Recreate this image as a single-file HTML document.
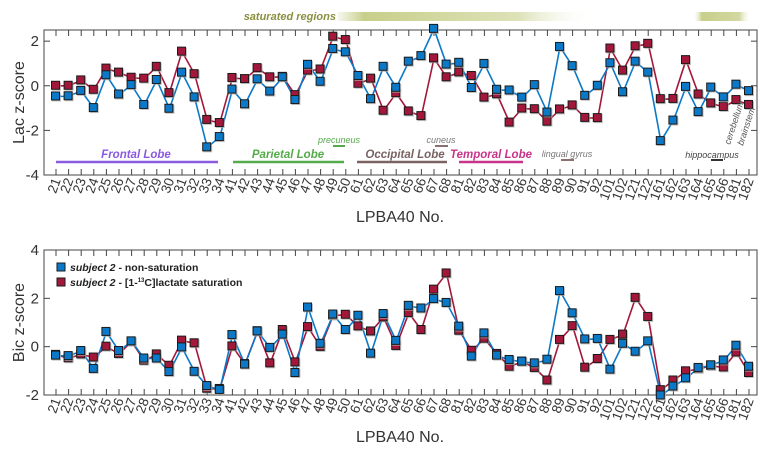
<!DOCTYPE html>
<html><head><meta charset="utf-8"><style>
body{margin:0;background:#fff}
svg{font-family:"Liberation Sans",sans-serif;display:block}
</style></head><body>
<svg id="c" width="770" height="450">
<defs>
<linearGradient id="g1" x1="0" x2="1"><stop offset="0" stop-color="#d2d8a0" stop-opacity="0.2"/><stop offset="0.1" stop-color="#c8cf8a"/><stop offset="0.7" stop-color="#dde2b8"/><stop offset="1" stop-color="#fff" stop-opacity="0"/></linearGradient>
<linearGradient id="g2" x1="0" x2="1"><stop offset="0" stop-color="#fff" stop-opacity="0"/><stop offset="0.15" stop-color="#c8cf8a"/><stop offset="0.8" stop-color="#d2d8a0"/><stop offset="1" stop-color="#fff" stop-opacity="0"/></linearGradient>
</defs>
</svg>
<script>
const categories=["21","22","23","24","25","26","27","28","29","30","31","32","33","34","41","42","43","44","45","46","47","48","49","50","61","62","63","64","65","66","67","68","81","82","83","84","85","86","87","88","89","90","91","92","101","102","121","122","161","162","163","164","165","166","181","182"];
const lacBlue=[-0.48,-0.47,-0.23,-1.0,0.47,-0.39,0.03,-0.86,0.26,-1.03,0.59,-0.52,-2.76,-2.3,-0.17,-0.83,0.29,-0.26,0.38,-0.64,0.94,0.18,1.65,1.5,0.44,-0.6,0.85,-0.09,1.08,1.33,2.55,0.95,1.03,-0.1,0.98,-0.18,-0.21,-0.53,0.03,-1.2,1.74,0.88,-0.45,0.0,1.01,-0.29,1.08,0.59,-2.48,-1.56,-0.05,-1.18,-0.08,-0.52,0.05,-0.24];
const lacRed=[0,0,0.24,-0.18,0.77,0.59,0.36,0.32,0.85,-0.33,1.53,0.52,-1.53,-1.67,0.35,0.3,0.79,0.38,0.4,-0.42,0.68,0.73,2.2,2.05,0.09,0.32,-1.12,-0.33,-1.15,-1.36,1.23,0.38,0.6,0.44,-0.53,-0.38,-1.65,-1.02,-1.05,-1.61,-1.06,-0.88,-1.44,-1.45,1.67,0.68,1.77,1.88,-0.6,-0.59,1.15,-0.39,-0.79,-0.95,-0.64,-0.86];
const bicBlue=[-0.37,-0.39,-0.18,-0.92,0.61,-0.18,0.22,-0.49,-0.49,-1.05,-0.03,-1.04,-1.63,-1.79,0.48,-0.74,0.63,-0.05,0.5,-1.09,1.62,0.12,1.33,0.69,1.28,-0.29,1.35,0.24,1.69,1.58,1.97,1.81,0.83,-0.41,0.55,-0.37,-0.55,-0.62,-0.69,-0.54,2.3,1.38,0.3,0.32,-0.95,0.12,-0.21,0.22,-2.02,-1.65,-1.31,-0.88,-0.77,-0.57,0.04,-0.83];
const bicRed=[-0.34,-0.48,-0.32,-0.45,0.0,-0.3,0.21,-0.58,-0.32,-0.79,0.25,0.14,-1.74,-1.75,0.01,-0.72,0.64,-0.69,0.69,-0.65,0.81,-0.01,1.29,1.32,0.84,0.63,1.21,0.03,1.39,0.69,2.36,3.03,0.66,-0.17,0.33,-0.3,-0.83,-0.62,-0.88,-1.4,0.28,0.85,-0.87,-0.51,0.28,0.5,2.02,1.23,-1.8,-1.4,-1.02,-0.92,-0.8,-0.86,-0.24,-1.09];
const lacTicks=[2,0,-2,-4];
const bicTicks=[4,2,0,-2];

const svg=document.getElementById('c');
const NS='http://www.w3.org/2000/svg';
function mk(t,a,p){const e=document.createElementNS(NS,t);for(const k in a)e.setAttribute(k,a[k]);(p||svg).appendChild(e);return e;}
const L=44,R=757,X0=56,X1=749;
const xs=i=>X0+i*(X1-X0)/(categories.length-1);
const BLUE='#0b79c8',RED='#a3183a';

function panel(name,top,bottom,ymin,ymax,ticks,b,r,ylab){
  const ys=v=>bottom-(v-ymin)/(ymax-ymin)*(bottom-top);
  const g=mk('g',{});
  
  
  const fr=mk('rect',{x:L,y:top,width:R-L,height:bottom-top,fill:'none',stroke:'#444','stroke-width':1},g);
  
  
  categories.forEach((c,i)=>{
    const x=xs(i);
    mk('line',{x1:x,x2:x,y1:top,y2:top+6,stroke:'#444'},g);
    mk('line',{x1:x,x2:x,y1:bottom,y2:bottom-6,stroke:'#444'},g);
    const t=mk('text',{x:x+5,y:bottom+5,'font-size':13.5,fill:'#333','text-anchor':'end',transform:`rotate(-70 ${x+5} ${bottom+5})`},g);
    t.textContent=c;
    
    
  });
  ticks.forEach(v=>{
    const y=ys(v);
    mk('line',{x1:L,x2:L+6,y1:y,y2:y,stroke:'#444'},g);
    mk('line',{x1:R,x2:R-6,y1:y,y2:y,stroke:'#444'},g);
    const t=mk('text',{x:L-5,y:y+5,'font-size':15,fill:'#333','text-anchor':'end'},g);
    t.textContent=v;
    
    
  });
  const yl=mk('text',{x:24,y:(top+bottom)/2,'font-size':16,fill:'#333','text-anchor':'middle',transform:`rotate(-90 24 ${(top+bottom)/2})`},g);
  yl.textContent=ylab;
  
  
  const xl=mk('text',{x:400,y:bottom+47,'font-size':16,fill:'#333','text-anchor':'middle'},g);
  xl.textContent='LPBA40 No.';
  
  
  [[r,RED,'sat'],[b,BLUE,'nonsat']].forEach(([d,col,nm])=>{
    const pl=mk('polyline',{points:d.map((v,i)=>xs(i)+','+ys(v)).join(' '),fill:'none',stroke:col,'stroke-width':1.6},g);
    
    
  });
  [[r,RED,'sat'],[b,BLUE,'nonsat']].forEach(([d,col,nm])=>{
    d.forEach((v,i)=>{
      mk('rect',{x:xs(i)-4,y:ys(v)-4,width:9,height:9,fill:'#aaa',opacity:0.7},g);
      const m=mk('rect',{x:xs(i)-4.5,y:ys(v)-4.5,width:8,height:8,fill:col,stroke:'#1a1a1a','stroke-width':1},g);
      
      
    });
  });
}
panel('lac-panel',30,175,-4,2.5,lacTicks,lacBlue,lacRed,'Lac z-score');
panel('bic-panel',250,395,-2,4,bicTicks,bicBlue,bicRed,'Bic z-score');

function txt(s,a,name){const t=mk('text',a);t.textContent=s;return t;}
function ln(x1,x2,y,col,name,w){const l=mk('line',{x1,x2,y1:y,y2:y,stroke:col,'stroke-width':w||2.5});}
// saturated regions
const s1=mk('rect',{x:338,y:12,width:258,height:9,fill:'url(#g1)'});
const s2=mk('rect',{x:693,y:12,width:58,height:9,fill:'url(#g2)'});
txt('saturated regions',{x:336,y:20,'font-size':11,'font-weight':'bold','font-style':'italic',fill:'#8a9040','text-anchor':'end'},'saturated-regions-label');
// lobes
ln(56,218,162,'#8a5ae0','frontal-line');txt('Frontal Lobe',{x:136,y:158,'font-size':11.5,'font-weight':'bold','font-style':'italic',fill:'#8a5ae0','text-anchor':'middle'},'frontal-label');
ln(233,344,162,'#55aa4a','parietal-line');txt('Parietal Lobe',{x:288,y:158,'font-size':11.5,'font-weight':'bold','font-style':'italic',fill:'#55aa4a','text-anchor':'middle'},'parietal-label');
ln(333,345,146,'#55aa4a','precuneus-line',2);txt('precuneus',{x:339,y:143,'font-size':9,'font-style':'italic',fill:'#55aa4a','text-anchor':'middle'},'precuneus-label');
ln(357,447,162,'#7a6262','occipital-line');txt('Occipital Lobe',{x:405,y:158,'font-size':11.5,'font-weight':'bold','font-style':'italic',fill:'#7a6262','text-anchor':'middle'},'occipital-label');
ln(435,448,146,'#8a7070','cuneus-line',2);txt('cuneus',{x:441,y:143,'font-size':9,'font-style':'italic',fill:'#777','text-anchor':'middle'},'cuneus-label');
ln(459,523,162,'#c8348a','temporal-line');txt('Temporal Lobe',{x:491,y:158,'font-size':11.5,'font-weight':'bold','font-style':'italic',fill:'#c8348a','text-anchor':'middle'},'temporal-label');
ln(561,574,160,'#8a7070','lingual-line',2);txt('lingual gyrus',{x:567,y:157,'font-size':9,'font-style':'italic',fill:'#777','text-anchor':'middle'},'lingual-label');
ln(711,723,160,'#333','hippocampus-line',2);txt('hippocampus',{x:712,y:158,'font-size':9,'font-style':'italic',fill:'#444','text-anchor':'middle'},'hippocampus-label');
txt('cerebellum',{x:730,y:145,'font-size':9,'font-style':'italic',fill:'#555',transform:'rotate(-72 730 145)'},'cerebellum-label');
txt('brainstem',{x:743,y:146,'font-size':9,'font-style':'italic',fill:'#555',transform:'rotate(-72 743 146)'},'brainstem-label');
// legend
const lg=mk('g',{});
[[BLUE,267,'<tspan font-style="italic">subject 2</tspan> - non-saturation','legend-entry-nonsat'],[RED,282,'<tspan font-style="italic">subject 2</tspan> - [1-<tspan font-size="6" dy="-4">13</tspan><tspan dy="4">C]lactate saturation</tspan>','legend-entry-sat']].forEach(([c,y,h,n])=>{
  const r=mk('rect',{x:57,y:y-4,width:8,height:8,fill:c,stroke:'#1a1a1a'},lg);
  const t=mk('text',{x:70,y:y+4,'font-size':10.5,'font-weight':'bold',fill:'#222'},lg);t.innerHTML=h;
});
</script>
</body></html>
